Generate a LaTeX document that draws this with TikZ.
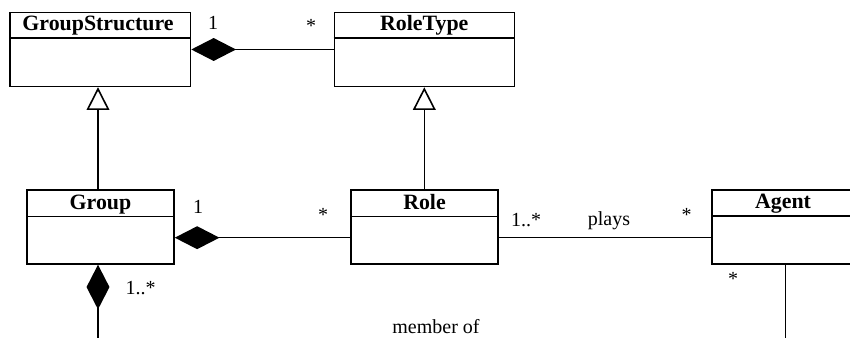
\documentclass[tikz,border=0pt]{standalone}
\usepackage{fontspec}
\setmainfont{Liberation Serif}
\usetikzlibrary{arrows.meta}

\tikzset{
  classbox/.style={draw, line width=1.2pt, inner sep=0pt, minimum height=55.4pt},
  classname/.style={font=\fontsize{16.4}{18}\selectfont\bfseries, inner sep=0pt, anchor=base},
  lbl/.style={font=\fontsize{15}{17}\selectfont, inner sep=0pt, anchor=base},
  star/.style={font=\fontsize{15}{17}\selectfont, inner sep=0pt},
  assoc/.style={line width=1.2pt},
  comp/.style={line width=1.2pt, {Diamond[length=33.5pt, width=17.2pt, fill=black]}-},
  gen/.style={line width=1.2pt, -{Triangle[open, length=17pt, width=17pt, line width=1.2pt]}},
}

\begin{document}
\begin{tikzpicture}[x=0.75pt, y=-0.75pt]
  \clip (0,0) rectangle (850,338);

  % class boxes
  \node[classbox, minimum width=135.4pt] (gs) at (100.25,49.5) {};
  \node[classbox, minimum width=135pt] (rt) at (424.3,49.5) {};
  \node[classbox, minimum width=110.25pt] (grp) at (100.5,227) {};
  \node[classbox, minimum width=110.25pt] (role) at (424.5,227) {};
  \node[classbox, minimum width=109.5pt] (agent) at (785,227) {};

  % name compartments
  \draw[line width=1.2pt] (gs.west |- 0,38.3) -- (gs.east |- 0,38.3);
  \draw[line width=1.2pt] (rt.west |- 0,38.3) -- (rt.east |- 0,38.3);
  \draw[line width=1.2pt] (grp.west |- 0,216.7) -- (grp.east |- 0,216.7);
  \draw[line width=1.2pt] (role.west |- 0,216.7) -- (role.east |- 0,216.7);
  \draw[line width=1.2pt] (agent.west |- 0,216.2) -- (agent.east |- 0,216.2);

  \node[classname] (gsname) at (98,31) {GroupStructure};
  \node[classname] (rtname) at (424.3,31) {RoleType};
  \node[classname] (grpname) at (100.5,209.3) {Group};
  \node[classname] (rolename) at (424.5,209.3) {Role};
  \node[classname] (agentname) at (783,208.8) {Agent};

  % connector rows
  \coordinate (gsx) at (98,0);
  \coordinate (rtx) at (424.3,0);
  \coordinate (rowline) at (0,237.7);
  \coordinate (down) at (98,345);
  \coordinate (agentdown) at (785.3,345);

  % composition and association lines
  \draw[comp] (gs.east) -- (rt.west);
  \draw[comp] (grp.east |- rowline) -- (role.west |- rowline);
  \draw[assoc] (role.east |- rowline) -- (agent.west |- rowline);
  \draw[comp] (grp.south -| gsx) -- (down);
  \draw[assoc] (agent.south -| agentdown) -- (agentdown);

  % generalisations
  \draw[gen] (grp.north -| gsx) -- (gs.south -| gsx);
  \draw[gen] (role.north -| rtx) -- (rt.south -| rtx);

  % multiplicities and association names
  \node[lbl] (m1) at (213,29.3) {1};
  \node[star] (m2) at (311,25.5) {*};
  \node[lbl] (m3) at (198,213.3) {1};
  \node[star] (m4) at (323,215) {*};
  \node[lbl] (m5) at (140.5,295) {1..*};
  \node[lbl] (m6) at (526,226.7) {1..*};
  \node[lbl] (plays) at (609,226) {plays};
  \node[star] (m7) at (686.7,215) {*};
  \node[star] (m8) at (733,279) {*};
  \node[lbl] (memberof) at (436,333.3) {member of};
\end{tikzpicture}
\end{document}
